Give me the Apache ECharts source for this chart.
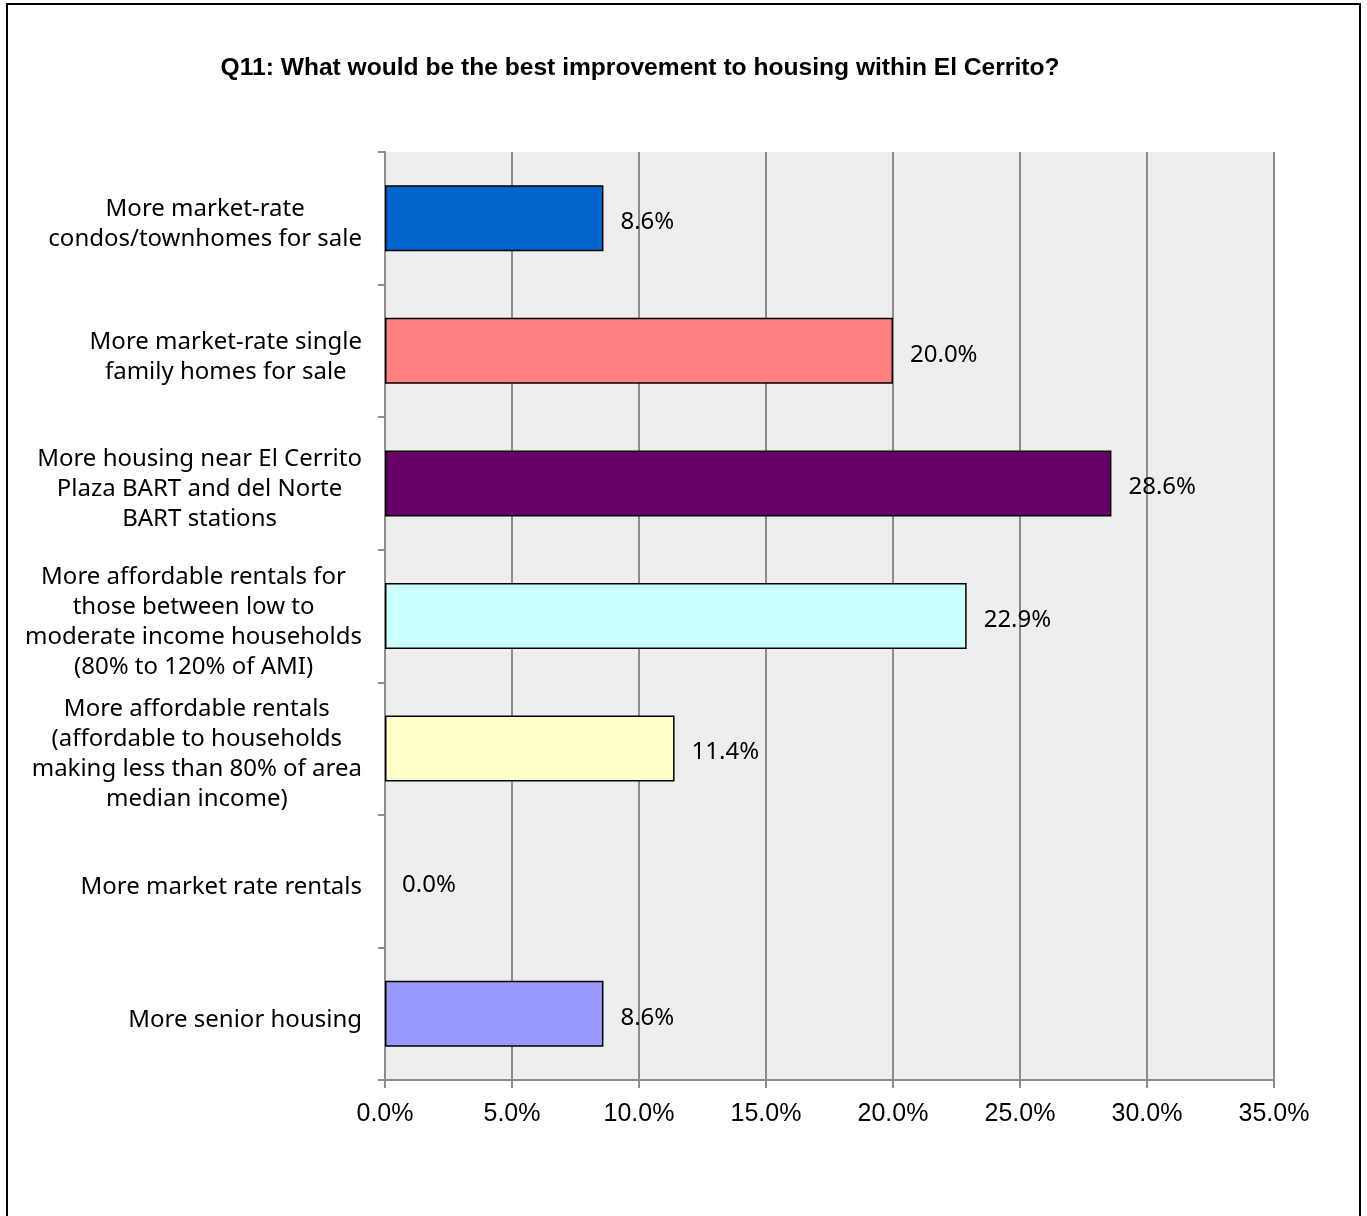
<!DOCTYPE html>
<html>
<head>
<meta charset="utf-8">
<script src="https://cdn.jsdelivr.net/npm/echarts@6/dist/echarts.min.js"></script>
<style>html,body{margin:0;padding:0;background:#fff}#c{width:1367px;height:1216px}</style>
</head>
<body>
<div id="c"></div>
<script>
const titleText = 'Q11: What would be the best improvement to housing within El Cerrito?';
const categories = [
  'More market-rate\ncondos/townhomes for sale',
  'More market-rate single\nfamily homes for sale',
  'More housing near El Cerrito\nPlaza BART and del Norte\nBART stations',
  'More affordable rentals for\nthose between low to\nmoderate income households\n(80% to 120% of AMI)',
  'More affordable rentals\n(affordable to households\nmaking less than 80% of area\nmedian income)',
  'More market rate rentals',
  'More senior housing'
];
const values = [8.6, 20.0, 28.6, 22.9, 11.4, 0.0, 8.6];
const barColors = ['#0066CC', '#FF8080', '#660066', '#CCFFFF', '#FFFFCC', '#CCCCCC', '#9999FF'];
const xTicks = [0, 5, 10, 15, 20, 25, 30, 35];

const chart = echarts.init(document.getElementById('c'));
chart.setOption({
  backgroundColor: '#ffffff',
  animation: false,
  title: {
    text: titleText,
    left: 635,
    textAlign: 'center',
    top: 51,
    textStyle: {
      fontFamily: '"Liberation Sans", Arial, sans-serif',
      fontSize: 24.6,
      fontWeight: 'bold',
      color: '#000'
    }
  },
  graphic: [{
    type: 'rect',
    shape: { x: 7, y: 4, width: 1353, height: 1260 },
    style: { fill: 'none', stroke: '#000', lineWidth: 2 },
    silent: true
  }],
  grid: {
    left: 385, right: 93, top: 152, bottom: 136,
    show: true, backgroundColor: '#eeeeee', borderWidth: 0
  },
  xAxis: {
    type: 'value',
    min: 0, max: 35, interval: 5,
    axisLine: { show: true, lineStyle: { color: '#8c8c8c', width: 2 } },
    axisTick: { show: true, length: 8, lineStyle: { color: '#8c8c8c', width: 2 } },
    splitLine: { show: true, lineStyle: { color: '#8c8c8c', width: 2 } },
    axisLabel: {
      margin: 22,
      fontFamily: '"Liberation Sans", Arial, sans-serif',
      fontSize: 25,
      color: '#000',
      formatter: v => xTicks.includes(v) ? v.toFixed(1) + '%' : ''
    }
  },
  yAxis: {
    type: 'category',
    inverse: true,
    data: categories,
    axisLine: { show: true, lineStyle: { color: '#8c8c8c', width: 2 } },
    axisTick: { show: true, length: 7, lineStyle: { color: '#8c8c8c', width: 2 } },
    axisLabel: {
      margin: 23,
      interval: 0,
      padding: [12, 0, 0, 0],
      formatter: v => v.split('\n').map(l => '{c|' + l + '}').join('\n'),
      rich: {
        c: {
          align: 'center',
          fontFamily: '"Noto Sans", "Open Sans", sans-serif',
          fontSize: 24,
          lineHeight: 30,
          color: '#000'
        }
      }
    }
  },
  series: [{
    type: 'bar',
    barWidth: 66,
    data: values.map((v, i) => ({
      value: v,
      itemStyle: { color: barColors[i], borderWidth: v === 0 ? 0 : 1.5 }
    })),
    itemStyle: { borderColor: '#000', borderWidth: 1.5 },
    label: {
      show: true,
      position: 'right',
      distance: 17,
      offset: [0, 4],
      fontFamily: '"Noto Sans", "Open Sans", sans-serif',
      fontSize: 24,
      color: '#000',
      formatter: p => p.value.toFixed(1) + '%'
    }
  }]
});
</script>
</body>
</html>
